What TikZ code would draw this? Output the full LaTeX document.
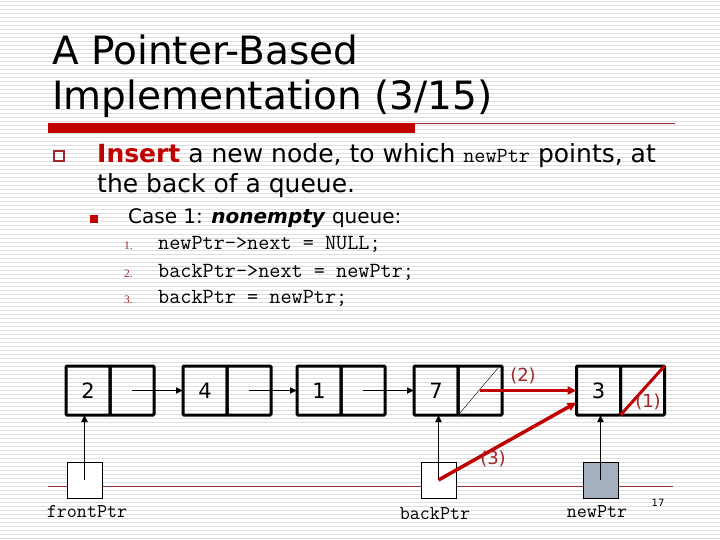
\documentclass[tikz,border=0pt]{standalone}
\usepackage{fontspec}
\setmainfont{DejaVu Sans}
\newfontfamily\numfont{Liberation Serif}
\usetikzlibrary{arrows.meta, positioning, calc}
\definecolor{slidered}{RGB}{192,0,0}
\definecolor{darkred}{RGB}{160,40,40}
\definecolor{ruleline}{RGB}{150,50,50}
\definecolor{stripegray}{RGB}{222,222,222}
\definecolor{ptrgray}{RGB}{164,176,190}

\begin{document}
\begin{tikzpicture}[
  x=1pt, y=-1pt,
  cell/.style={
    draw, line width=3pt, rounded corners=1pt,
    minimum width=44pt, minimum height=49pt,
    inner sep=0pt, outer sep=0pt,
    font=\fontsize{21}{24}\selectfont
  },
  ptrbox/.style={draw, line width=0.8pt, fill=#1, minimum width=35pt, minimum height=36pt, inner sep=0pt},
  link/.style={-{Triangle[length=7pt, width=6pt]}, line width=1.8pt},
  redlink/.style={-{Triangle[length=9pt, width=8pt]}, line width=3.5pt, draw=slidered},
  ptrlabel/.style={anchor=base, font=\ttfamily\fontsize{19.5}{22}\selectfont},
  steplabel/.style={text=darkred, font=\fontsize{18}{20}\selectfont},
  codeline/.style={anchor=base west, font=\ttfamily\fontsize{21.6}{24}\selectfont},
  codenum/.style={anchor=base west, text=darkred, font=\numfont\fontsize{11.5}{13}\selectfont},
  stripe/.style={draw=stripegray, line width=1pt}
]
\useasboundingbox (0,0) rectangle (720,540);
\fill[white] (0,0) rectangle (720,540);
\foreach \y in {2,6,...,538}
  \draw[stripe] (0,\y) -- (720,\y);

% title
\node[anchor=base west, inner sep=0pt, font=\fontsize{39}{46}\selectfont] (title1) at (52,65) {A Pointer-Based};
\node[anchor=base west, inner sep=0pt, font=\fontsize{39}{46}\selectfont] (title2) at (52,110) {Implementation (3/15)};
\fill[slidered] (48,123) rectangle (415,133);
\draw[ruleline, line width=1pt] (415,123.5) -- (675,123.5);

% bullets and text
\draw[darkred, line width=1.3pt] (54,151) rectangle (64,161);
\fill[slidered] (90,215) rectangle (98,223);
\node[anchor=base west, inner sep=0pt, font=\fontsize{25}{28}\selectfont] (insert) at (97,163)
  {\textcolor{slidered}{\textbf{Insert}} a new node, to which {\ttfamily\fontsize{21.6}{24}\selectfont newPtr} points, at};
\node[anchor=base west, inner sep=0pt, font=\fontsize{25}{28}\selectfont] (insert2) at (97,193) {the back of a queue.};
\node[anchor=base west, inner sep=0pt, font=\fontsize{20}{24}\selectfont] (case) at (128,223)
  {Case 1: \textbf{\textit{nonempty}} queue:};
\node[codenum, inner sep=0pt] (n1) at (124,249) {1.};
\node[codenum, inner sep=0pt] (n2) at (124,277) {2.};
\node[codenum, inner sep=0pt] (n3) at (124,303) {3.};
\node[codeline, inner sep=0pt] (c1) at (158,249) {newPtr->next = NULL;};
\node[codeline, inner sep=0pt] (c2) at (158,277) {backPtr->next = newPtr;};
\node[codeline, inner sep=0pt] (c3) at (158,303) {backPtr = newPtr;};

% rule under the pointers
\draw[ruleline, line width=0.8pt] (48,486) -- (673,486);

% queue nodes
\node[cell] (d2) at (88,390.5) {2};
\node[cell, right=0pt of d2] (p2) {};
\node[cell] (d4) at (205,390.5) {4};
\node[cell, right=0pt of d4] (p4) {};
\node[cell] (d1) at (319,390.5) {1};
\node[cell, right=0pt of d1] (p1) {};
\node[cell] (d7) at (436,390.5) {7};
\node[cell, right=0pt of d7] (p7) {};
\node[cell] (d3) at (598.5,390.5) {3};
\node[cell, right=0pt of d3] (p3) {};

\draw[thin] ([shift={(1.5pt,1.5pt)}]p7.south west) -- ([shift={(-4pt,-2pt)}]p7.north east);

\draw[link] (p2.center) -- (d4.west);
\draw[link] (p4.center) -- (d1.west);
\draw[link] (p1.center) -- (d7.west);

% external pointers
\node[ptrbox=white] (front) at (84.5,480) {};
\node[ptrbox=white] (back) at (438.5,480) {};
\node[ptrbox=ptrgray] (new) at (600.5,480) {};
\node[ptrlabel] (frontlbl) at (87,517) {frontPtr};
\node[ptrlabel] (backlbl) at (435,519) {backPtr};
\node[ptrlabel] (newlbl) at (597,517) {newPtr};

\draw[link] (front.center) -- (d2.south -| front.center);
\draw[link] (back.center) -- (d7.south -| back.center);
\draw[link] (new.center) -- (d3.south -| new.center);

% the three steps
\draw[slidered, line width=3pt] (p3.south west) -- (p3.north east);
\draw[redlink] (p7.center) -- (d3.west);
\draw[redlink] (back.center) -- ([yshift=-12pt]d3.west);
\node[steplabel] (step1) at (648,402) {(1)};
\node[steplabel] (step2) at (523,376) {(2)};
\node[steplabel] (step3) at (493,459) {(3)};

\node[font=\fontsize{10}{12}\selectfont] (pagenum) at (658,503) {17};
\end{tikzpicture}
\end{document}
